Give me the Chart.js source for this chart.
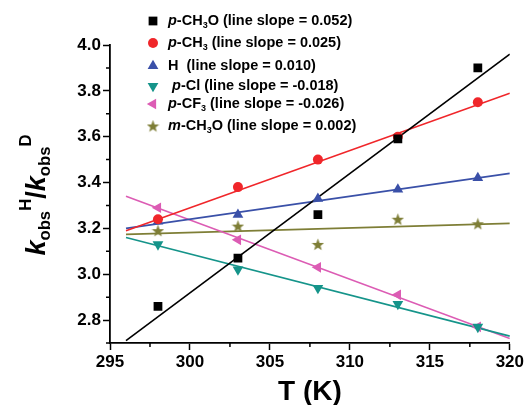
<!DOCTYPE html>
<html>
<head>
<meta charset="utf-8">
<script src="https://cdn.jsdelivr.net/npm/chart.js@4.4.0/dist/chart.umd.min.js"></script>
<style>
  html, body { margin: 0; padding: 0; background: #fff; }
  #wrap { width: 526px; height: 405px; }
</style>
</head>
<body>
<div id="wrap"><canvas id="kie"></canvas></div>
<script>
// temperatures (K)
const temps = [298, 303, 308, 313, 318];

// kH/kD values per substituent
const pCH3O = [2.86, 3.07, 3.26, 3.59, 3.90];
const pCH3  = [3.24, 3.38, 3.50, 3.60, 3.75];
const hSub  = [3.23, 3.26, 3.33, 3.37, 3.42];
const pCl   = [3.13, 3.02, 2.94, 2.87, 2.77];
const pCF3  = [3.29, 3.15, 3.03, 2.91, 2.77];
const mCH3O = [3.19, 3.21, 3.13, 3.24, 3.22];

// fit lines, read where the drawn lines start and end
const fitT     = [296, 320];
const fitCH3O  = [2.71, 3.96];
const fitCH3   = [3.19, 3.79];
const fitH     = [3.20, 3.44];
const fitCl    = [3.16, 2.73];
const fitCF3   = [3.34, 2.72];
const fitMCH3O = [3.174, 3.222];

const xTicks = [295, 300, 305, 310, 315, 320];
const yTicks = [2.8, 3.0, 3.2, 3.4, 3.6, 3.8, 4.0];

const legendLabels = [
  [['p', 'i'], ['-CH'], ['3', 'sub'], ['O (line slope = 0.052)']],
  [['p', 'i'], ['-CH'], ['3', 'sub'], [' (line slope = 0.025)']],
  [['H  (line slope = 0.010)']],
  [[' '], ['p', 'i'], ['-Cl (line slope = -0.018)']],
  [['p', 'i'], ['-CF'], ['3', 'sub'], [' (line slope = -0.026)']],
  [['m', 'i'], ['-CH'], ['3', 'sub'], ['O (line slope = 0.002)']]
];

// filled five point star, Chart.js only has an outline one
function makeStar(color, size) {
  const c = document.createElement('canvas');
  c.width = size; c.height = size;
  const g = c.getContext('2d');
  const cx = size / 2, cy = size / 2 + 0.6, ro = size / 2, ri = ro * 0.42;
  g.beginPath();
  for (let i = 0; i < 10; i++) {
    const r = i % 2 ? ri : ro;
    const a = -Math.PI / 2 + i * Math.PI / 5;
    g.lineTo(cx + r * Math.cos(a), cy + r * Math.sin(a));
  }
  g.closePath();
  g.fillStyle = color;
  g.fill();
  return c;
}

const series = [
  { vals: pCH3O, fit: fitCH3O,  color: '#000000', style: 'rect',     rot: 0,   r: 6.2 },
  { vals: pCH3,  fit: fitCH3,   color: '#f0262a', style: 'circle',   rot: 0,   r: 5 },
  { vals: hSub,  fit: fitH,     color: '#3a50a8', style: 'triangle', rot: 0,   r: 6.2 },
  { vals: pCl,   fit: fitCl,    color: '#15948a', style: 'triangle', rot: 180, r: 6.2 },
  { vals: pCF3,  fit: fitCF3,   color: '#dc5cb4', style: 'triangle', rot: -90, r: 6.2 },
  { vals: mCH3O, fit: fitMCH3O, color: '#7e7e36', style: null,       rot: 0,   r: 6 }
];
series[5].style = makeStar(series[5].color, 13);

const datasets = [];
series.forEach(s => {
  datasets.push({
    data: s.fit.map((v, i) => ({ x: fitT[i], y: v })),
    showLine: true,
    borderColor: s.color,
    borderWidth: 1.6,
    pointRadius: 0,
    order: 2
  });
  datasets.push({
    data: s.vals.map((v, i) => ({ x: temps[i], y: v })),
    showLine: false,
    backgroundColor: s.color,
    borderColor: s.color,
    borderWidth: 0,
    pointStyle: s.style,
    rotation: s.rot,
    pointRadius: s.r,
    order: 1
  });
});

function drawRuns(ctx, runs, x, y, size) {
  runs.forEach(([t, kind]) => {
    let fs = size, dy = 0, style = '';
    if (kind === 'i') style = 'italic ';
    if (kind === 'sub') { fs = size * 0.62; dy = size * 0.28; }
    if (kind === 'sup') { fs = size * 0.62; dy = -size * 0.42; }
    ctx.font = style + 'bold ' + fs + 'px "Liberation Sans", Arial, sans-serif';
    ctx.fillText(t, x, y + dy);
    x += ctx.measureText(t).width;
  });
  return x;
}

const extras = {
  id: 'extras',
  afterDraw(chart) {
    const ctx = chart.ctx;
    const xs = chart.scales.x, ys = chart.scales.y;
    ctx.save();
    // minor ticks
    ctx.strokeStyle = '#000';
    ctx.lineWidth = 1.5;
    ctx.beginPath();
    for (let i = 0; i < xTicks.length - 1; i++) {
      const px = xs.getPixelForValue((xTicks[i] + xTicks[i + 1]) / 2);
      ctx.moveTo(px, xs.top); ctx.lineTo(px, xs.top + 4);
    }
    const yMinor = [2.7].concat(yTicks.slice(0, -1).map((v, i) => (v + yTicks[i + 1]) / 2));
    yMinor.forEach(v => {
      const py = ys.getPixelForValue(v);
      ctx.moveTo(ys.right, py); ctx.lineTo(ys.right - 4, py);
    });
    ctx.stroke();

    // legend
    ctx.textBaseline = 'middle';
    const rowY = [21, 43, 66, 86, 104, 126];
    series.forEach((s, i) => {
      ctx.fillStyle = s.color;
      Chart.helpers.drawPoint(ctx, {
        pointStyle: s.style, rotation: s.rot, radius: s.r, borderWidth: 0
      }, 153, rowY[i]);
      ctx.fillStyle = '#000';
      drawRuns(ctx, legendLabels[i], 168, rowY[i], 14.5);
    });

    // x title
    ctx.textAlign = 'center';
    ctx.font = 'bold 28px "Liberation Sans", Arial, sans-serif';
    ctx.fillText('T (K)', (xs.left + xs.right) / 2, 392);

    // y title
    ctx.textAlign = 'left';
    ctx.translate(38, 195);
    ctx.rotate(-Math.PI / 2);
    const yRuns = [['k', 'i'], ['obs', 'sub'], ['H', 'sup'], ['/'], ['k', 'i'], ['obs', 'sub'], ['D', 'sup']];
    let w = 0;
    yRuns.forEach(([t, kind]) => {
      const fs = (kind === 'sub' || kind === 'sup') ? 27 * 0.62 : 27;
      ctx.font = (kind === 'i' ? 'italic ' : '') + 'bold ' + fs + 'px "Liberation Sans", Arial, sans-serif';
      w += ctx.measureText(t).width;
    });
    drawRuns(ctx, yRuns, -w / 2, 0, 27);
    ctx.restore();
  }
};

new Chart(document.getElementById('kie'), {
  type: 'scatter',
  data: { datasets },
  plugins: [extras],
  options: {
    responsive: true,
    maintainAspectRatio: false,
    animation: false,
    layout: { padding: { left: 0, top: 45, right: 15, bottom: 0 } },
    plugins: { legend: { display: false }, tooltip: { enabled: false } },
    scales: {
      x: {
        type: 'linear',
        min: 295,
        max: 320,
        afterBuildTicks: s => { s.ticks = xTicks.map(v => ({ value: v })); },
        afterFit: s => { s.height = 62; },
        grid: { drawOnChartArea: false, tickLength: 7, tickWidth: 1.5, tickColor: '#000' },
        border: { color: '#000', width: 1.8 },
        ticks: {
          color: '#000',
          padding: 2,
          maxRotation: 0,
          font: { family: '"Liberation Sans", Arial, sans-serif', size: 17, weight: 'bold' }
        }
      },
      y: {
        min: 2.7,
        max: 4.0,
        afterBuildTicks: s => { s.ticks = yTicks.map(v => ({ value: v })); },
        afterFit: s => { s.width = 110; },
        grid: { drawOnChartArea: false, tickLength: 7, tickWidth: 1.5, tickColor: '#000' },
        border: { color: '#000', width: 1.8 },
        ticks: {
          color: '#000',
          padding: 2,
          callback: v => v.toFixed(1),
          font: { family: '"Liberation Sans", Arial, sans-serif', size: 17, weight: 'bold' }
        }
      }
    }
  }
});
</script>
</body>
</html>
